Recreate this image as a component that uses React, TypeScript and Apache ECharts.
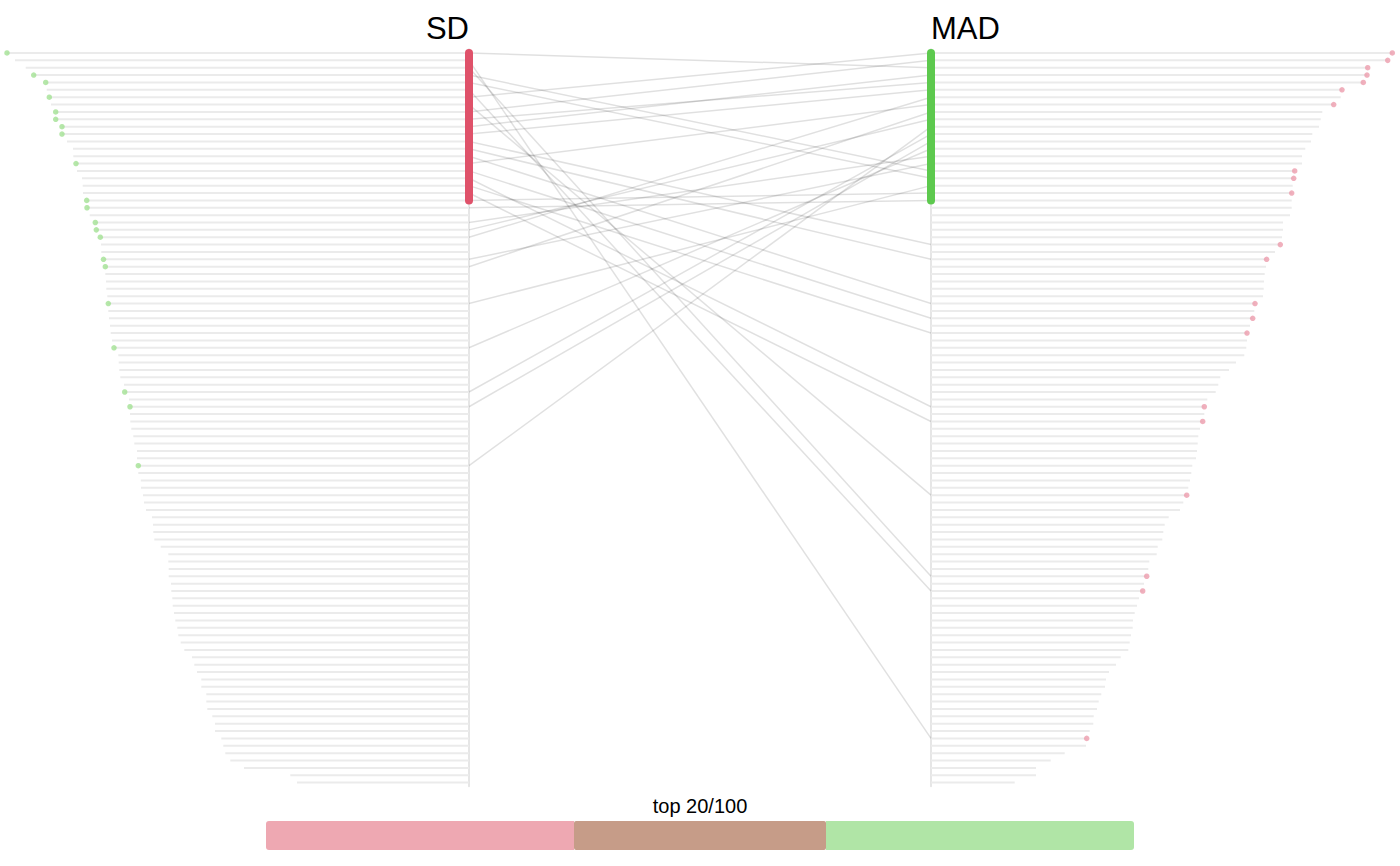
import React, { useEffect, useRef } from "react";
import * as echarts from "echarts";

// Ranked values (rank 1..100), descending
const sdValues = [
  4.62, 4.54, 4.433, 4.353, 4.233, 4.223, 4.197, 4.18, 4.133, 4.133,
  4.07, 4.07, 4.02, 3.96, 3.957, 3.93, 3.92, 3.87, 3.863, 3.86,
  3.823, 3.82, 3.793, 3.737, 3.727, 3.687, 3.68, 3.677, 3.655, 3.637,
  3.637, 3.63, 3.627, 3.617, 3.607, 3.607, 3.6, 3.59, 3.583, 3.57,
  3.55, 3.507, 3.503, 3.497, 3.487, 3.45, 3.443, 3.4, 3.39, 3.39,
  3.387, 3.377, 3.357, 3.347, 3.32, 3.32, 3.307, 3.307, 3.282, 3.28,
  3.26, 3.25, 3.23, 3.17, 3.16, 3.157, 3.147, 3.083, 3.007, 3.007,
  3.003, 3.003, 2.98, 2.977, 2.967, 2.963, 2.95, 2.937, 2.917, 2.907,
  2.883, 2.847, 2.77, 2.747, 2.72, 2.677, 2.677, 2.627, 2.627, 2.617,
  2.567, 2.54, 2.54, 2.477, 2.457, 2.437, 2.387, 2.25, 1.787, 1.72,
];

const madValues = [
  4.613, 4.567, 4.367, 4.36, 4.323, 4.11, 4.097, 4.027, 3.913, 3.897,
  3.88, 3.813, 3.8, 3.743, 3.71, 3.71, 3.637, 3.627, 3.617, 3.607,
  3.607, 3.607, 3.59, 3.52, 3.52, 3.51, 3.493, 3.44, 3.356, 3.35,
  3.337, 3.33, 3.327, 3.32, 3.24, 3.233, 3.217, 3.19, 3.16, 3.16,
  3.153, 3.133, 3.05, 2.98, 2.893, 2.873, 2.847, 2.763, 2.733, 2.733,
  2.717, 2.69, 2.673, 2.667, 2.66, 2.65, 2.613, 2.603, 2.59, 2.573,
  2.557, 2.523, 2.49, 2.377, 2.337, 2.323, 2.313, 2.267, 2.257, 2.183,
  2.173, 2.157, 2.13, 2.117, 2.08, 2.06, 2.037, 2.02, 2.017, 2.0,
  1.987, 1.973, 1.897, 1.85, 1.78, 1.75, 1.74, 1.703, 1.677, 1.66,
  1.627, 1.623, 1.587, 1.557, 1.55, 1.337, 1.197, 1.05, 1.05, 0.837,
];

// Each link: same item, its SD rank and its MAD rank
const linkSdRank = [
  1, 4, 5, 7, 9, 10, 11, 12, 16, 21,
  2, 3, 6, 8, 13, 14, 15, 17, 18, 19, 20,
  22, 24, 25, 26, 29, 30, 35, 41, 47, 49, 57,
];
const linkMadRank = [
  3, 17, 18, 1, 2, 5, 4, 6, 8, 20,
  94, 72, 74, 61, 27, 29, 35, 37, 49, 39, 51,
  21, 15, 10, 7, 16, 9, 19, 14, 12, 13, 11,
];

const topN = 21;
const rankLabels = sdValues.map((_, i) => String(i + 1));

// Summary bar: SD only, both, MAD only
const summaryNames = ["SD only", "both", "MAD only"];
const summaryCounts = [11, 9, 11];
const summaryTitle = "top 20/100";

export default function App() {
  const ref = useRef<HTMLDivElement>(null);

  useEffect(() => {
    if (!ref.current) return;
    const chart = echarts.init(ref.current, null, { renderer: "svg" });

    const gridTop = 49.3;
    const gridHeight = 737;
    const gridBottom = 866 - gridTop - gridHeight;

    const greenDots = linkSdRank
      .map((s, k) => ({ s, m: linkMadRank[k] }))
      .filter((d) => d.m <= topN)
      .map((d) => [sdValues[d.s - 1], d.s - 1]);
    const redDots = linkSdRank
      .map((s, k) => ({ s, m: linkMadRank[k] }))
      .filter((d) => d.s <= topN)
      .map((d) => [madValues[d.m - 1], d.m - 1]);

    const links = linkSdRank.map((s, k) => ({
      coords: [
        [0, s - 1],
        [1, linkMadRank[k] - 1],
      ],
    }));

    const hiddenCat = (pos: string, showLine: boolean, gi: number) => ({
      type: "category",
      gridIndex: gi,
      data: rankLabels,
      inverse: true,
      position: pos,
      axisLine: {
        show: showLine,
        onZero: false,
        lineStyle: { color: "#e6e6e6", width: 2 },
      },
      axisTick: { show: false },
      axisLabel: { show: false },
      splitLine: { show: false },
    });

    const summaryColors = ["#EEA8B2", "#C69C88", "#B0E5A6"];
    const summaryTotal = summaryCounts.reduce((a, b) => a + b, 0);

    chart.setOption({
      animation: false,
      grid: [
        { left: 7, right: 931, top: gridTop, bottom: gridBottom },
        { left: 931, right: 7.7, top: gridTop, bottom: gridBottom },
        { left: 469, right: 469, top: gridTop, bottom: gridBottom },
        { left: 266, right: 266, top: 821, height: 29 },
      ],
      xAxis: [
        { type: "value", gridIndex: 0, inverse: true, min: 0, max: sdValues[0], show: false },
        { type: "value", gridIndex: 1, min: 0, max: madValues[0], show: false },
        { type: "value", gridIndex: 2, min: 0, max: 1, show: false },
        { type: "value", gridIndex: 3, min: 0, max: summaryTotal, show: false },
      ],
      yAxis: [
        hiddenCat("right", true, 0),
        hiddenCat("left", true, 1),
        hiddenCat("left", false, 2),
        {
          type: "category",
          gridIndex: 3,
          data: ["top"],
          show: false,
        },
      ],
      graphic: [
        {
          type: "text",
          x: 469,
          y: 28,
          style: {
            text: "SD",
            fontSize: 31,
            fontFamily: "Liberation Sans, Arial, sans-serif",
            fill: "#000",
            align: "right",
            verticalAlign: "middle",
          },
        },
        {
          type: "text",
          x: 931,
          y: 28,
          style: {
            text: "MAD",
            fontSize: 31,
            fontFamily: "Liberation Sans, Arial, sans-serif",
            fill: "#000",
            align: "left",
            verticalAlign: "middle",
          },
        },
        {
          type: "text",
          x: 700,
          y: 806,
          style: {
            text: summaryTitle,
            fontSize: 20,
            fontFamily: "Liberation Sans, Arial, sans-serif",
            fill: "#000",
            align: "center",
            verticalAlign: "middle",
          },
        },
      ],
      series: [
        {
          type: "bar",
          xAxisIndex: 0,
          yAxisIndex: 0,
          data: sdValues,
          barWidth: 2,
          itemStyle: { color: "#ebebeb" },
          silent: true,
        },
        {
          type: "bar",
          xAxisIndex: 1,
          yAxisIndex: 1,
          data: madValues,
          barWidth: 2,
          itemStyle: { color: "#ebebeb" },
          silent: true,
        },
        {
          type: "lines",
          coordinateSystem: "cartesian2d",
          xAxisIndex: 2,
          yAxisIndex: 2,
          data: links,
          lineStyle: { color: "rgba(0,0,0,0.12)", width: 1.5, opacity: 1 },
          silent: true,
          z: 3,
        },
        {
          type: "line",
          xAxisIndex: 0,
          yAxisIndex: 0,
          data: [
            [0, 0],
            [0, topN - 1],
          ],
          symbol: "none",
          lineStyle: { color: "#DF526A", width: 8, cap: "round" },
          silent: true,
          z: 5,
        },
        {
          type: "line",
          xAxisIndex: 1,
          yAxisIndex: 1,
          data: [
            [0, 0],
            [0, topN - 1],
          ],
          symbol: "none",
          lineStyle: { color: "#5DC94E", width: 8, cap: "round" },
          silent: true,
          z: 5,
        },
        {
          type: "scatter",
          xAxisIndex: 0,
          yAxisIndex: 0,
          data: greenDots,
          symbolSize: 5.5,
          itemStyle: { color: "#A3E194" },
          silent: true,
          z: 4,
        },
        {
          type: "scatter",
          xAxisIndex: 1,
          yAxisIndex: 1,
          data: redDots,
          symbolSize: 5.5,
          itemStyle: { color: "#EC9CAD" },
          silent: true,
          z: 4,
        },
        ...summaryCounts.map((c, i) => ({
          type: "bar",
          name: summaryNames[i],
          xAxisIndex: 3,
          yAxisIndex: 3,
          stack: "summary",
          data: [c],
          barWidth: 29,
          itemStyle: {
            color: summaryColors[i],
            borderRadius:
              i === 0 ? [3, 0, 0, 3] : i === summaryCounts.length - 1 ? [0, 3, 3, 0] : 2,
          },
          silent: true,
        })),
      ],
    });

    return () => chart.dispose();
  }, []);

  return (
    <div
      ref={ref}
      style={{ position: "absolute", left: 0, top: 0, width: 1400, height: 866 }}
    />
  );
}
